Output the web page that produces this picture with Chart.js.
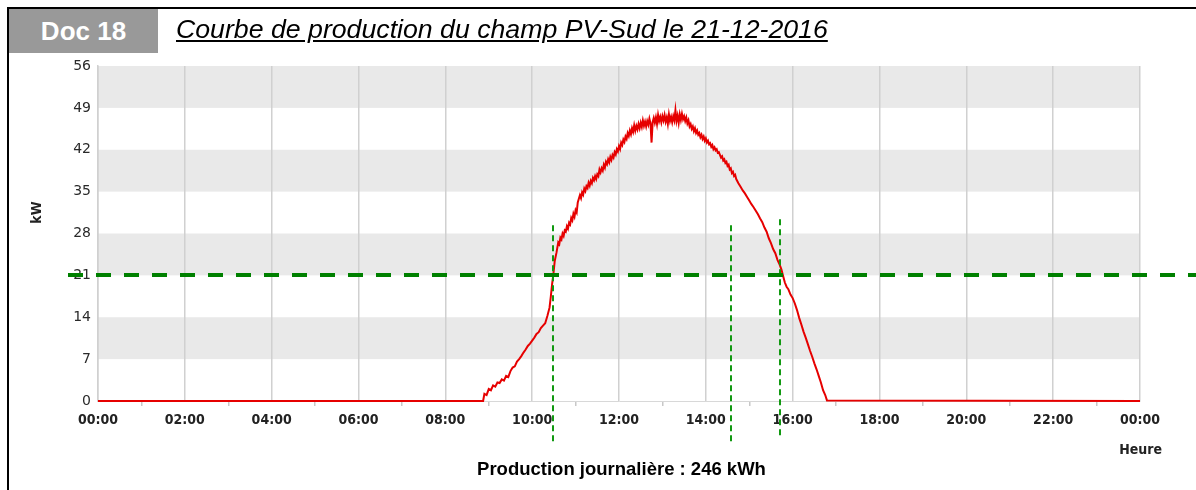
<!DOCTYPE html>
<html>
<head>
<meta charset="utf-8">
<script src="https://cdn.jsdelivr.net/npm/chart.js@4.4.0/dist/chart.umd.min.js"></script>
<style>
  body { margin: 0; background: #fff; }
  #page { position: relative; width: 1196px; height: 490px; overflow: hidden; font-family: "Liberation Sans", Arial, sans-serif; }
  #myChart { position: absolute; left: 0; top: 0; }
  .frameTop { position: absolute; left: 7px; top: 7px; width: 1189px; height: 2px; background: #000; }
  .frameLeft { position: absolute; left: 7px; top: 7px; width: 2px; height: 483px; background: #000; }
  .docBox { position: absolute; left: 9px; top: 9px; width: 149px; height: 44px; background: #999; color: #fff;
            font-weight: bold; font-size: 26px; line-height: 44px; text-align: center; }
  .title { position: absolute; left: 176px; top: 14px; font-size: 26.7px; font-style: italic; text-decoration: underline; color: #000; white-space: nowrap; }
  .daily { position: absolute; left: 0; width: 1243px; top: 458px; text-align: center; font-weight: bold; font-size: 18.5px; color: #000; }
</style>
</head>
<body>
<div id="page">
  <canvas id="myChart" width="1196" height="490"></canvas>
  <div class="frameTop"></div>
  <div class="frameLeft"></div>
  <div class="docBox">Doc 18</div>
  <div class="title">Courbe de production du champ PV-Sud le 21-12-2016</div>
  <div class="daily">Production journalière : 246 kWh</div>
</div>
<script>
//////////////////////////////
/////////Data to Chart////////
//////////////////////////////

// Time of day (hours) and production (kW)
const prodHours = [0, 8.87, 8.90, 8.95, 9.00, 9.05, 9.10, 9.15, 9.20, 9.25, 9.30, 9.35, 9.40, 9.45, 9.50,
  9.55, 9.60, 9.65, 9.70, 9.75, 9.80, 9.85, 9.90, 9.95, 10.00, 10.05, 10.10, 10.15, 10.20, 10.25,
  10.30, 10.35, 10.40, 10.43, 10.46, 10.49, 10.52, 10.56,
  // morning rise
  10.600, 10.625, 10.650, 10.675, 10.700, 10.725, 10.750, 10.775, 10.800, 10.825, 10.850, 10.875,
  10.900, 10.925, 10.950, 10.975, 11.000, 11.025, 11.050, 11.075, 11.100, 11.125, 11.150, 11.175,
  11.200, 11.225, 11.250, 11.275, 11.300, 11.325, 11.350, 11.375, 11.400, 11.425, 11.450, 11.475,
  11.500, 11.525, 11.550, 11.575, 11.600, 11.625, 11.650, 11.675, 11.700, 11.725, 11.750, 11.775,
  11.800, 11.825, 11.850, 11.875, 11.900, 11.925, 11.950, 11.975, 12.000, 12.025, 12.050, 12.075,
  12.100, 12.125, 12.150, 12.175, 12.200, 12.225, 12.250, 12.275, 12.300, 12.325, 12.350, 12.375,
  12.400, 12.425, 12.450, 12.475, 12.500,
  // peak
  12.525, 12.550, 12.575, 12.600, 12.625, 12.650, 12.675, 12.700, 12.725, 12.750, 12.775, 12.800,
  12.825, 12.850, 12.875, 12.900, 12.925, 12.950, 12.975, 13.000, 13.025, 13.050, 13.075, 13.100,
  13.125, 13.150, 13.175, 13.200, 13.225, 13.250, 13.275, 13.300, 13.325, 13.350, 13.375, 13.400,
  13.425, 13.450, 13.475, 13.500, 13.525, 13.550, 13.575, 13.600, 13.625, 13.650, 13.675, 13.700,
  13.725, 13.750, 13.775, 13.800, 13.825, 13.850, 13.875, 13.900, 13.925, 13.950, 13.975, 14.000,
  14.025, 14.050, 14.075, 14.100, 14.125, 14.150, 14.175, 14.200, 14.225, 14.250, 14.275, 14.300,
  14.350, 14.375, 14.400, 14.425, 14.450, 14.475, 14.500, 14.525, 14.550, 14.575, 14.600, 14.625,
  14.650, 14.675, 14.700,
  // afternoon fall
  14.75, 14.80, 14.85, 14.90, 14.95, 15.00,
  15.05, 15.10, 15.15, 15.20, 15.25, 15.30, 15.35, 15.40, 15.45, 15.50, 15.55, 15.60, 15.65, 15.70,
  15.74, 15.78, 15.82, 15.86, 15.90, 15.95, 16.00, 16.05, 16.10, 16.15, 16.20, 16.25, 16.30, 16.35,
  16.40, 16.45, 16.50, 16.55, 16.60, 16.65, 16.70, 16.75, 16.79, 24];
const prodKW = [0, 0, 1.2, 1.0, 2.0, 1.8, 2.6, 2.4, 3.1, 3.0, 3.6, 3.4, 4.2, 4.0, 5.0,
  5.6, 5.8, 6.6, 7.0, 7.5, 8.1, 8.6, 9.2, 9.6, 10.1, 10.6, 11.2, 11.5, 12.2, 12.6,
  13.0, 14.2, 15.6, 17.5, 19.6, 21.3, 23.4, 24.8,
  // morning rise
  26.5, 26.2, 27.3, 27.0, 28.0, 27.6, 28.5, 28.3, 29.2, 28.8, 29.8, 29.5,
  30.6, 30.2, 31.3, 30.8, 31.9, 31.5, 33.2, 33.8, 34.4, 33.9, 34.9, 34.5,
  35.5, 35.1, 35.9, 35.6, 36.5, 36.0, 36.8, 36.4, 37.3, 36.9, 37.6, 37.1,
  37.9, 37.6, 38.7, 38.2, 38.9, 38.5, 39.5, 39.0, 40.0, 39.6, 40.4, 39.9,
  40.8, 40.3, 41.1, 40.7, 41.6, 41.2, 42.1, 41.7, 42.6, 42.1, 43.2, 42.8,
  43.7, 43.3, 44.2, 43.8, 44.8, 44.3, 45.2, 44.6, 45.6, 45.0, 46.1, 45.2,
  46.0, 45.4, 46.3, 45.6, 46.5,
  // peak
  45.8, 46.9, 46.0, 46.7, 45.9, 46.8, 46.2, 47.2, 46.4, 43.2, 46.6, 47.3,
  46.5, 47.4, 46.3, 47.8, 46.8, 47.5, 46.6, 47.6, 46.9, 47.8, 46.7, 47.4,
  46.3, 47.9, 46.8, 47.5, 46.6, 47.6, 46.9, 48.6, 46.8, 47.7, 46.5, 47.9,
  47.0, 48.0, 47.1, 47.6, 46.8, 47.4, 46.4, 46.9, 45.9, 46.3, 45.5, 45.9,
  45.1, 45.6, 44.8, 45.2, 44.5, 44.8, 44.1, 44.5, 43.8, 44.2, 43.5, 43.9,
  43.2, 43.5, 42.9, 43.1, 42.5, 42.8, 42.1, 42.4, 41.9, 42.1, 41.5, 41.6,
  40.7, 40.9, 40.2, 40.4, 39.8, 40.0, 39.3, 39.5, 38.7, 38.9, 38.1, 38.3,
  37.6, 37.8, 37.1,
  // afternoon fall
  36.4, 35.8, 35.2, 34.7, 34.1, 33.5,
  32.9, 32.4, 31.8, 31.2, 30.5, 29.9, 29.0, 28.3, 27.2, 26.4, 25.4, 24.7, 23.6, 22.8,
  22.0, 20.9, 19.8, 19.1, 18.7, 17.8, 17.2, 16.3, 15.2, 13.9, 12.8, 11.6, 10.6, 9.5,
  8.4, 7.4, 6.3, 5.3, 4.2, 3.1, 1.8, 1.0, 0.1, 0];

// Axis ticks
const yTicks = [0, 7, 14, 21, 28, 35, 42, 49, 56];
const xTickLabels = ['00:00', '02:00', '04:00', '06:00', '08:00', '10:00', '12:00',
  '14:00', '16:00', '18:00', '20:00', '22:00', '00:00'];

// Green reading lines: horizontal threshold and vertical markers
const thresholdKW = 21;
const markerHours = [10.48, 14.58, 15.71];
const markerTop = [29.4, 29.4, 30.4];
const markerBottom = [-6.9, -6.9, -6.1];

var data = [];
for (let i = 0; i < prodHours.length; i++) {
  data.push({ x: prodHours[i], y: prodKW[i] });
}

const AXIS_FONT = "'DejaVu Sans Condensed', 'Liberation Sans', sans-serif";

// Grey bands, green lines and axis titles
const decorPlugin = {
  id: 'decor',
  beforeDraw(chart) {
    const ctx = chart.ctx, a = chart.chartArea, y = chart.scales.y;
    ctx.save();
    ctx.fillStyle = '#e9e9e9';
    for (let i = 1; i < yTicks.length - 1; i += 2) {
      const top = y.getPixelForValue(yTicks[i + 1]);
      const bot = y.getPixelForValue(yTicks[i]);
      ctx.fillRect(a.left, top, a.right - a.left, bot - top);
    }
    ctx.restore();
  },
  afterDatasetsDraw(chart) {
    const ctx = chart.ctx, a = chart.chartArea, x = chart.scales.x, y = chart.scales.y;
    ctx.save();
    // vertical markers
    ctx.strokeStyle = '#119911';
    ctx.lineWidth = 2;
    ctx.setLineDash([6, 4]);
    for (let i = 0; i < markerHours.length; i++) {
      const px = Math.round(x.getPixelForValue(markerHours[i]));
      ctx.beginPath();
      ctx.moveTo(px, y.getPixelForValue(markerTop[i]));
      ctx.lineTo(px, y.getPixelForValue(markerBottom[i]));
      ctx.stroke();
    }
    // horizontal threshold
    ctx.strokeStyle = '#008000';
    ctx.lineWidth = 4;
    ctx.setLineDash([15, 13]);
    const py = Math.round(y.getPixelForValue(thresholdKW));
    ctx.beginPath();
    ctx.moveTo(a.left - 30, py);
    ctx.lineTo(chart.width, py);
    ctx.stroke();
    ctx.setLineDash([]);
    // axis titles
    ctx.fillStyle = '#222';
    ctx.font = 'bold 14px ' + AXIS_FONT;
    ctx.textAlign = 'right';
    ctx.textBaseline = 'middle';
    ctx.fillText('Heure', a.right + 22, a.bottom + 49);
    ctx.translate(37, (a.top + a.bottom) / 2 - 21);
    ctx.rotate(-Math.PI / 2);
    ctx.textAlign = 'center';
    ctx.fillText('kW', 0, 0);
    ctx.restore();
  }
};

var myChart = new Chart(
  document.getElementById('myChart'),
  {
    type: 'line',
    data: {
      datasets: [
        {
          label: 'Production',
          data: data,
          borderColor: '#e60000',
          borderWidth: 2,
          pointRadius: 0,
          tension: 0,
          clip: false
        }
      ]
    },
    options: {
      responsive: false,
      animation: false,
      devicePixelRatio: 1,
      layout: { padding: { left: 8, right: 56, top: 66, bottom: 49 } },
      plugins: {
        legend: { display: false },
        tooltip: { enabled: false }
      },
      scales: {
        x: {
          type: 'linear',
          min: 0,
          max: 24,
          afterFit: (s) => { s.height = 40; },
          border: { display: true, color: '#d8d8d8', width: 1 },
          grid: {
            color: (c) => (c.tick && c.tick.value % 2 === 0) ? '#d0d0d0' : 'rgba(0,0,0,0)',
            tickColor: (c) => (c.tick && c.tick.value % 2 === 1) ? '#c8c8c8' : 'rgba(0,0,0,0)',
            lineWidth: 1.5,
            drawTicks: true,
            tickLength: 5
          },
          ticks: {
            stepSize: 1,
            autoSkip: false,
            maxRotation: 0,
            padding: 6,
            color: '#222',
            font: { family: AXIS_FONT, size: 14, weight: 'bold' },
            callback: (v) => (v % 2 === 0) ? xTickLabels[v / 2] : ''
          }
        },
        y: {
          min: 0,
          max: 56,
          afterFit: (s) => { s.width = 90; },
          border: { display: true, color: '#d0d0d0', width: 1.5 },
          grid: { display: false, drawTicks: false },
          ticks: {
            stepSize: 7,
            padding: 7,
            color: '#2a2a2a',
            font: { family: "'DejaVu Sans', sans-serif", size: 14 }
          }
        }
      }
    },
    plugins: [decorPlugin]
  }
);
</script>
</body>
</html>
